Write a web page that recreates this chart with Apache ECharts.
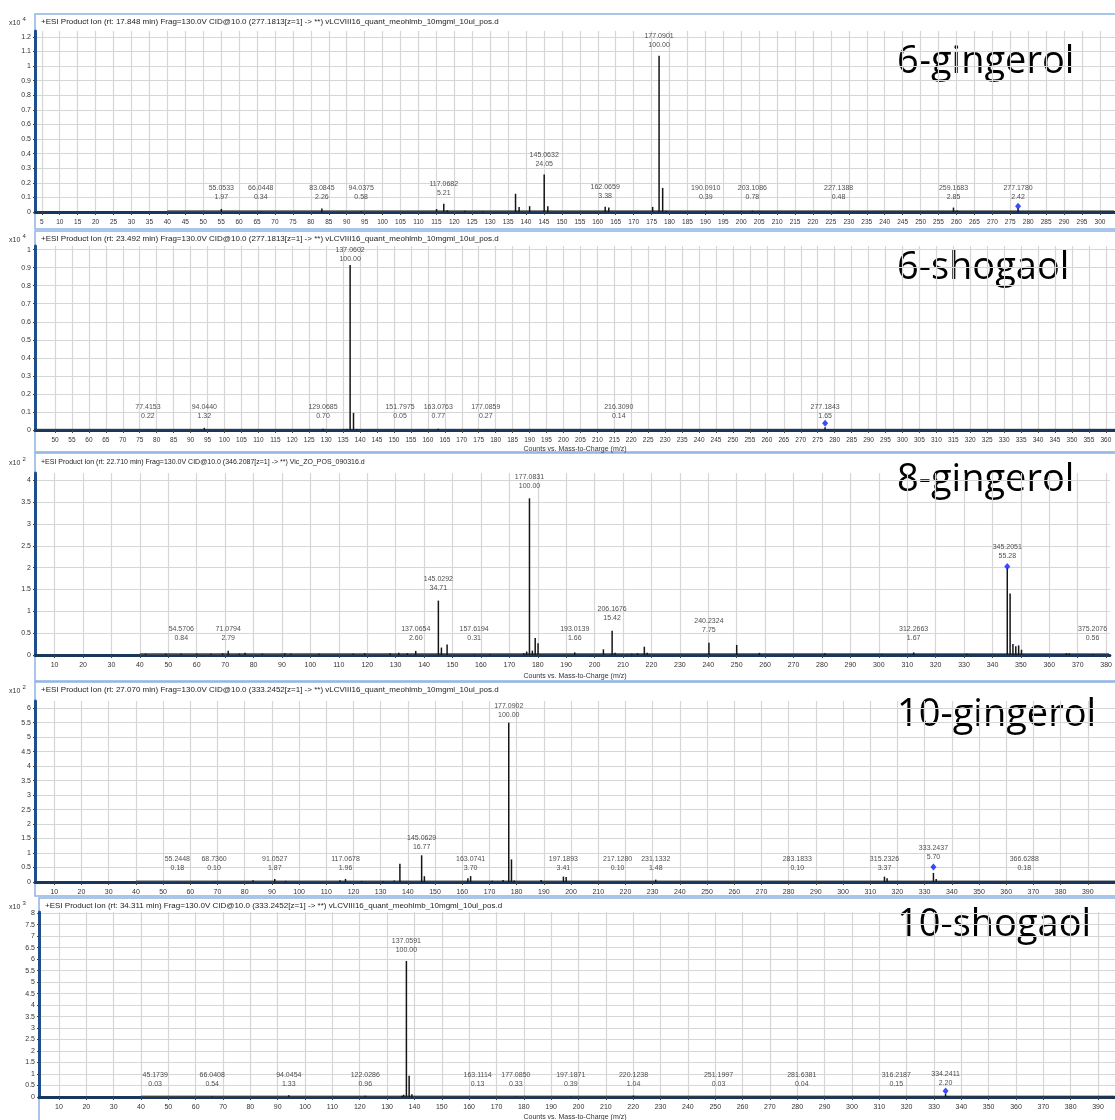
<!DOCTYPE html>
<html><head><meta charset="utf-8">
<script src="https://cdn.jsdelivr.net/npm/echarts@6/dist/echarts.min.js"></script>
<style>html,body{margin:0;padding:0;background:#fff}#c{width:1115px;height:1120px}</style>
</head><body><div id="c"></div>
<script>
function range(a,b,s){const r=[];for(let v=a;v<=b+1e-9;v+=s)r.push(+v.toFixed(4));return r;}

// ---------- DATA ----------
const names = ['6-gingerol','6-shogaol','8-gingerol','10-gingerol','10-shogaol'];
const headers = [
 '+ESI Product Ion (rt: 17.848 min) Frag=130.0V CID@10.0 (277.1813[z=1] -> **) vLCVIII16_quant_meohlmb_10mgml_10ul_pos.d',
 '+ESI Product Ion (rt: 23.492 min) Frag=130.0V CID@10.0 (277.1813[z=1] -> **) vLCVIII16_quant_meohlmb_10mgml_10ul_pos.d',
 '+ESI Product Ion (rt: 22.710 min) Frag=130.0V CID@10.0 (346.2087[z=1] -> **) Vic_ZO_POS_090316.d',
 '+ESI Product Ion (rt: 27.070 min) Frag=130.0V CID@10.0 (333.2452[z=1] -> **) vLCVIII16_quant_meohlmb_10mgml_10ul_pos.d',
 '+ESI Product Ion (rt: 34.311 min) Frag=130.0V CID@10.0 (333.2452[z=1] -> **) vLCVIII16_quant_meohlmb_10mgml_10ul_pos.d'
];
const multipliers = ['4','4','2','2','3'];
const axisTitle = 'Counts vs. Mass-to-Charge (m/z)';

// labeled peaks: [m/z, relative abundance %]
const p1Labeled = [[55.0533,1.97],[66.0448,0.34],[83.0845,2.26],[94.0375,0.58],[117.0682,5.21],[145.0632,24.05],[162.0659,3.38],[177.0901,100.00],[190.0910,0.39],[203.1086,0.78],[227.1388,0.48],[259.1683,2.85],[277.1780,2.42]];
const p2Labeled = [[77.4153,0.22],[94.0440,1.32],[129.0685,0.70],[137.0602,100.00],[151.7975,0.05],[163.0763,0.77],[177.0859,0.27],[216.3090,0.14],[277.1843,1.65]];
const p3Labeled = [[54.5706,0.84],[71.0794,2.79],[137.0654,2.60],[145.0292,34.71],[157.6194,0.31],[177.0831,100.00],[193.0139,1.66],[206.1676,15.42],[240.2324,7.75],[312.2663,1.67],[345.2051,55.28],[375.2076,0.56]];
const p4Labeled = [[55.2448,0.18],[68.7360,0.10],[91.0527,1.87],[117.0678,1.96],[145.0629,16.77],[163.0741,3.70],[177.0902,100.00],[197.1893,3.41],[217.1280,0.10],[231.1332,1.48],[283.1833,0.10],[315.2326,3.37],[333.2437,5.70],[366.6288,0.18]];
const p5Labeled = [[45.1739,0.03],[66.0408,0.54],[94.0454,1.33],[122.0286,0.96],[137.0591,100.00],[163.1114,0.13],[177.0850,0.33],[197.1871,0.39],[220.1238,1.04],[251.1997,0.03],[281.6381,0.04],[316.2187,0.15],[334.2411,2.20]];

// base peak intensity (axis units)
const p1Base = 1.07, p2Base = 0.915, p3Base = 3.59, p4Base = 5.5, p5Base = 5.92;

// unlabeled peaks: [m/z, intensity in axis units]
const p1Other = [[115.05,0.020],[118.07,0.012],[123.0,0.008],[128.0,0.005],[137.07,0.125],[138.07,0.035],[141.0,0.04],[146.07,0.04],[163.07,0.03],[175.3,0.035],[178.09,0.165],[179.1,0.008],[200.0,0.005],[205.1,0.004],[260.17,0.01]];
const p2Other = [[125.0,0.003],[135.05,0.004],[136.05,0.006],[138.06,0.095],[139.07,0.006],[278.19,0.003]];
const p3Other = [[42.0,0.03],[49.1,0.03],[60.0,0.03],[65.0,0.03],[69.1,0.04],[75.0,0.03],[77.0,0.05],[83.1,0.03],[91.0,0.04],[93.1,0.03],[103.0,0.03],[115.1,0.03],[119.1,0.04],[128.1,0.04],[131.1,0.05],[134.1,0.04],[146.1,0.17],[148.1,0.24],[163.1,0.02],[175.1,0.04],[176.1,0.08],[178.1,0.1],[179.1,0.39],[180.1,0.27],[203.1,0.13],[207.2,0.05],[213.1,0.03],[215.1,0.04],[217.5,0.19],[218.5,0.05],[250.0,0.23],[258.0,0.05],[281.0,0.04],[301.0,0.02],[331.0,0.03],[346.2,1.41],[347.2,0.25],[348.2,0.2],[349.2,0.22],[350.2,0.12],[366.0,0.04],[367.0,0.04]];
const p4Other = [[83.06,0.06],[95.05,0.04],[115.05,0.06],[123.0,0.03],[131.0,0.03],[135.0,0.05],[137.07,0.63],[146.07,0.2],[162.07,0.13],[171.0,0.04],[175.0,0.07],[178.09,0.78],[179.1,0.05],[189.0,0.07],[198.2,0.17],[316.2,0.13],[334.25,0.1]];
const p5Other = [[135.5,0.05],[136.06,0.1],[138.06,0.93],[139.07,0.12],[335.24,0.03]];

// precursor ion (blue marker)
const p1Precursor = 277.1780, p2Precursor = 277.1843, p3Precursor = 345.2051, p4Precursor = 333.2437, p5Precursor = 334.2411;

// baseline noise floor: [m/z, intensity]
const p1Noise = [[40,0.008],[304,0.008]];
const p2Noise = [[44,0.004],[363,0.004]];
const p3Noise = [[40,0.03],[381,0.03]];
const p4Noise = [[40,0.035],[400,0.035]];
const p5Noise = [[40,0.04],[396,0.04]];

// tick labels
const p1XTicks = range(5,300,5), p2XTicks = range(50,360,5), p3XTicks = range(10,380,10), p4XTicks = range(10,390,10), p5XTicks = range(10,390,10);
const p1YTicks = range(0,1.2,0.1), p2YTicks = range(0,1,0.1), p3YTicks = range(0,4,0.5), p4YTicks = range(0,6,0.5), p5YTicks = range(0,8,0.5);

// ---------- LAYOUT ----------
const data = [
 {lab:p1Labeled, base:p1Base, other:p1Other, prec:p1Precursor, noise:p1Noise, xt:p1XTicks, yt:p1YTicks},
 {lab:p2Labeled, base:p2Base, other:p2Other, prec:p2Precursor, noise:p2Noise, xt:p2XTicks, yt:p2YTicks},
 {lab:p3Labeled, base:p3Base, other:p3Other, prec:p3Precursor, noise:p3Noise, xt:p3XTicks, yt:p3YTicks},
 {lab:p4Labeled, base:p4Base, other:p4Other, prec:p4Precursor, noise:p4Noise, xt:p4XTicks, yt:p4YTicks},
 {lab:p5Labeled, base:p5Base, other:p5Other, prec:p5Precursor, noise:p5Noise, xt:p5XTicks, yt:p5YTicks}
];
const L = [
 {left:35, top:31, height:181, xMin:3.1, xMax:304.2, yMax:1.24, yStep:0.1, boxTop:14, boxBottom:229, headerY:22, nameY:62, floorPx:4.5, gap:6, precExtra:0, diaOff:-2, xFont:6.5, hFont:8, titleY:null},
 {left:35, top:246, height:184, xMin:44.1, xMax:362.7, yMax:1.02, yStep:0.1, boxTop:231, boxBottom:452, headerY:239, nameY:268, floorPx:8.5, gap:1, precExtra:0, diaOff:-4, xFont:6.5, hFont:8, titleY:449},
 {left:35, top:473, height:182, xMin:3.1, xMax:381.3, yMax:4.17, yStep:0.5, boxTop:453, boxBottom:681, headerY:462, nameY:480, floorPx:4.5, gap:8, precExtra:0, diaOff:-2, xFont:7, hFont:7, titleY:676},
 {left:35, top:701, height:181, xMin:2.9, xMax:400, yMax:6.25, yStep:0.5, boxTop:682, boxBottom:896, headerY:690, nameY:715, floorPx:5.5, gap:3.5, precExtra:8, diaOff:-6, xFont:7, hFont:8, titleY:null},
 {left:39, top:912, height:185, xMin:2.7, xMax:396.2, yMax:8.05, yStep:0.5, boxTop:898, boxBottom:1140, headerY:906, nameY:925, floorPx:2.5, gap:6, precExtra:0, diaOff:-3, xFont:7, hFont:8, titleY:1117}
];

const W = 1115;
const grids=[], xAxes=[], yAxes=[], series=[], graphics=[];
const smallFont = '"Liberation Sans", Arial, sans-serif';

L.forEach((l,i)=>{
  const d = data[i];
  grids.push({left:l.left, top:l.top, height:l.height, width:W-l.left, containLabel:false});
  xAxes.push({type:'value', gridIndex:i, min:l.xMin, max:l.xMax,
    axisLine:{onZero:false, lineStyle:{color:'#17375e', width:3}},
    axisTick:{show:true, customValues:d.xt, length:3, lineStyle:{color:'#444', width:1}},
    axisLabel:{customValues:d.xt, fontSize:l.xFont, color:'#333', margin:7, fontFamily:smallFont, hideOverlap:false},
    splitLine:{show:true, lineStyle:{color:'#d6d6d6', width:1.2}}
  });
  yAxes.push({type:'value', gridIndex:i, min:0, max:l.yMax, interval:l.yStep,
    axisLine:{show:true, lineStyle:{color:'#1f4e8c', width:3}},
    axisTick:{show:true, customValues:d.yt, length:2, lineStyle:{color:'#444'}},
    axisLabel:{customValues:d.yt, fontSize:7, color:'#333', margin:4, fontFamily:smallFont},
    splitLine:{show:true, lineStyle:{color:'#d6d6d6', width:1.2}}
  });
  const ppu = l.height / l.yMax;
  const floor = l.floorPx / ppu;
  const labPeaks = d.lab.map(p=>[p[0], p[1]/100*d.base]);
  const sticks = labPeaks.concat(d.other);
  series.push({type:'line', xAxisIndex:i, yAxisIndex:i, data:d.noise, symbol:'none', silent:true,
    lineStyle:{color:'#333', width:0.8}, areaStyle:{color:'#555', opacity:0.8}, z:2});
  series.push({type:'custom', xAxisIndex:i, yAxisIndex:i, data:sticks, encode:{x:0,y:1}, z:3,
    renderItem:(params, api)=>{
      const x=api.value(0), y=api.value(1);
      const a=api.coord([x,0]), b=api.coord([x,y]);
      return {type:'line', shape:{x1:a[0], y1:a[1], x2:b[0], y2:b[1]}, style:{stroke:'#151515', lineWidth:1.5}};
    }});
  series.push({type:'scatter', xAxisIndex:i, yAxisIndex:i, symbolSize:0, z:4,
    data:d.lab.map((p,k)=>{
      const isPrec = Math.abs(p[0]-d.prec)<1e-6;
      const h = labPeaks[k][1] + (isPrec ? l.precExtra/ppu : 0);
      return {value:[p[0], Math.max(h, floor)], mz:p[0].toFixed(4), pct:p[1].toFixed(2)};
    }),
    label:{show:true, position:'top', distance:l.gap, fontSize:7, lineHeight:9, color:'#222', fontFamily:smallFont,
      formatter:(p)=>p.data.mz+'\n'+p.data.pct}
  });
  const pk = labPeaks.find(p=>Math.abs(p[0]-d.prec)<1e-6);
  series.push({type:'scatter', xAxisIndex:i, yAxisIndex:i, data:[[pk[0], pk[1]]], symbol:'diamond', symbolSize:[6,7], symbolOffset:[0,l.diaOff],
    itemStyle:{color:'#0a1cff'}, z:5});

  graphics.push({type:'rect', z:-1, shape:{x:l.left, y:l.boxTop, width:W-l.left+10, height:l.boxBottom-l.boxTop}, style:{fill:'none', stroke:'#8db3e2', lineWidth:1.5}});
  graphics.push({type:'text', x:l.left+6, y:l.headerY, style:{text:headers[i], fill:'#222', font:l.hFont+'px '+smallFont, align:'left', verticalAlign:'middle'}});
  graphics.push({type:'text', x:9, y:l.headerY+1, style:{text:'x10', fill:'#333', font:'7px '+smallFont, align:'left', verticalAlign:'middle'}});
  graphics.push({type:'text', x:22.5, y:l.headerY-3, style:{text:multipliers[i], fill:'#333', font:'6px '+smallFont, align:'left', verticalAlign:'middle'}});
  graphics.push({type:'text', x:897, y:l.nameY, style:{text:names[i], fill:'#000', font:'38px "Open Sans", sans-serif', align:'left', verticalAlign:'middle'}});
  if(l.titleY!==null){
    graphics.push({type:'text', x:575, y:l.titleY, style:{text:axisTitle, fill:'#333', font:'7px '+smallFont, align:'center', verticalAlign:'middle'}});
  }
});

const chart = echarts.init(document.getElementById('c'), null, {renderer:'canvas'});
chart.setOption({animation:false, backgroundColor:'#fff', grid:grids, xAxis:xAxes, yAxis:yAxes, series:series, graphic:graphics});
</script></body></html>
